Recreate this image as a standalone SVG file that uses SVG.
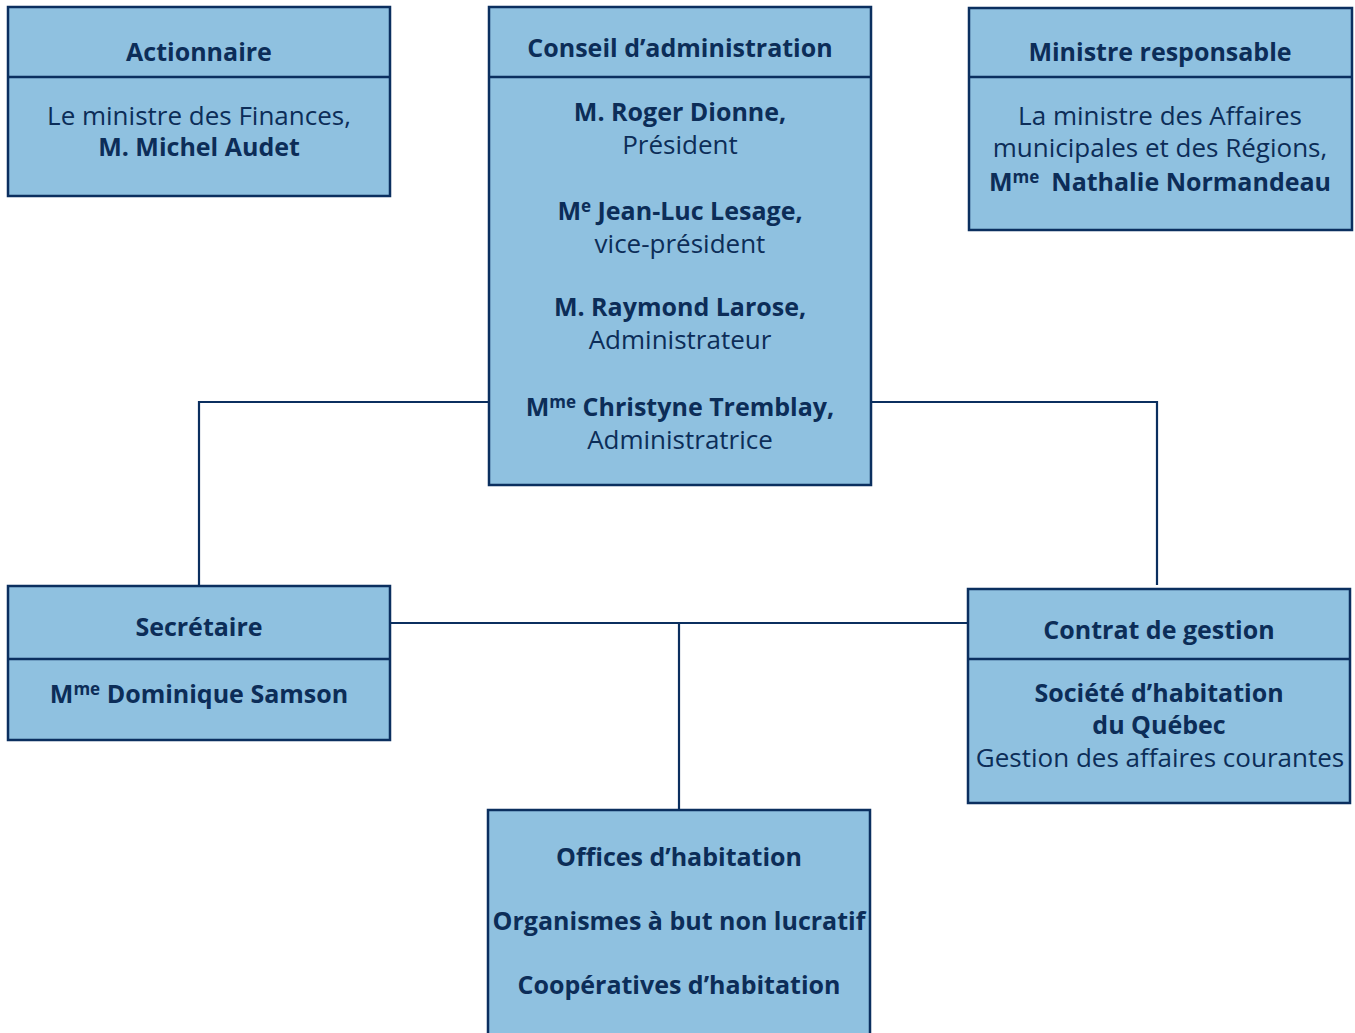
<svg xmlns="http://www.w3.org/2000/svg" width="1355" height="1033" viewBox="0 0 1355 1033">
<style>
.box{fill:#8fc1e0;stroke:#0b2f5f;stroke-width:2.5}
.div{stroke:#0b2f5f;stroke-width:2.5}
.conn{fill:none;stroke:#0b2f5f;stroke-width:2.2}
text{font-family:"Open Sans","Noto Sans","Liberation Sans",sans-serif;font-size:26px;fill:#0c2d58;text-anchor:middle}
.b{font-weight:700;font-size:25px}
.sup{font-size:17px}
</style>
<rect width="1355" height="1033" fill="#ffffff"/>
<g id="connectors">
<polyline class="conn" points="489,402 199,402 199,585"/>
<polyline class="conn" points="871,402 1157,402 1157,585"/>
<line class="conn" x1="390" y1="623" x2="968" y2="623"/>
<line class="conn" x1="679" y1="623" x2="679" y2="810"/>
</g>
<g id="actionnaire">
<rect class="box" x="8" y="7" width="382" height="189"/>
<line class="div" x1="8" y1="77" x2="390" y2="77"/>
<text class="b" x="199" y="61">Actionnaire</text>
<text x="199" y="125">Le ministre des Finances,</text>
<text class="b" x="199" y="156">M. Michel Audet</text>
</g>
<g id="conseil">
<rect class="box" x="489" y="7" width="382" height="478"/>
<line class="div" x1="489" y1="77" x2="871" y2="77"/>
<text class="b" x="680" y="57">Conseil d’administration</text>
<text class="b" x="680" y="121">M. Roger Dionne,</text>
<text x="680" y="154">Président</text>
<text class="b" x="680" y="220">M<tspan class="sup" dy="-8">e</tspan><tspan dy="8"> Jean-Luc Lesage,</tspan></text>
<text x="680" y="253">vice-président</text>
<text class="b" x="680" y="316">M. Raymond Larose,</text>
<text x="680" y="349">Administrateur</text>
<text class="b" x="680" y="416">M<tspan class="sup" dy="-8">me</tspan><tspan dy="8"> Christyne Tremblay,</tspan></text>
<text x="680" y="449">Administratrice</text>
</g>
<g id="ministre">
<rect class="box" x="969" y="8" width="383" height="222"/>
<line class="div" x1="969" y1="77" x2="1352" y2="77"/>
<text class="b" x="1160" y="61">Ministre responsable</text>
<text x="1160" y="125">La ministre des Affaires</text>
<text x="1160" y="157">municipales et des Régions,</text>
<text class="b" x="1160" y="191">M<tspan class="sup" dy="-8">me</tspan><tspan dy="8" dx="12">Nathalie Normandeau</tspan></text>
</g>
<g id="secretaire">
<rect class="box" x="8" y="586" width="382" height="154"/>
<line class="div" x1="8" y1="659" x2="390" y2="659"/>
<text class="b" x="199" y="636">Secrétaire</text>
<text class="b" x="199" y="703">M<tspan class="sup" dy="-8">me</tspan><tspan dy="8"> Dominique Samson</tspan></text>
</g>
<g id="contrat">
<rect class="box" x="968" y="589" width="382" height="214"/>
<line class="div" x1="968" y1="659" x2="1350" y2="659"/>
<text class="b" x="1159" y="639">Contrat de gestion</text>
<text class="b" x="1159" y="702">Société d’habitation</text>
<text class="b" x="1159" y="734">du Québec</text>
<text x="1160" y="767">Gestion des affaires courantes</text>
</g>
<g id="offices">
<rect class="box" x="488" y="810" width="382" height="240"/>
<text class="b" x="679" y="866">Offices d’habitation</text>
<text class="b" x="679" y="930">Organismes à but non lucratif</text>
<text class="b" x="679" y="994">Coopératives d’habitation</text>
</g>
</svg>
